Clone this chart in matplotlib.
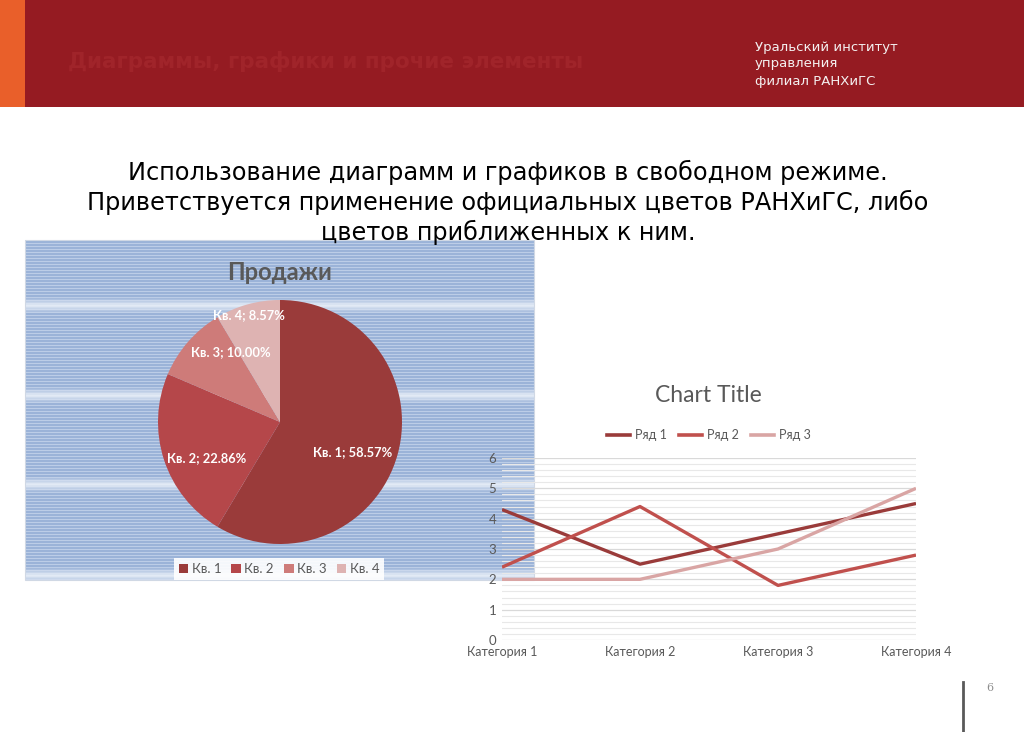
import numpy as np
import matplotlib
matplotlib.use("Agg")
import matplotlib.pyplot as plt
from matplotlib.patches import Rectangle, Patch
from matplotlib.lines import Line2D
from matplotlib.ticker import MultipleLocator

# ---- data ----
pie_labels = ["Кв. 1", "Кв. 2", "Кв. 3", "Кв. 4"]
pie_values = [8.2, 3.2, 1.4, 1.2]
pie_colors = ["#9A3B3A", "#B5474A", "#CE7B79", "#DEB3B2"]
pie_label_r = [0.64, 0.67, 0.70, 0.91]
pie_label_dang = [-7, 8, -14, 1]

categories = ["Категория 1", "Категория 2", "Категория 3", "Категория 4"]
series_names = ["Ряд 1", "Ряд 2", "Ряд 3"]
series_1 = [4.3, 2.5, 3.5, 4.5]
series_2 = [2.4, 4.4, 1.8, 2.8]
series_3 = [2.0, 2.0, 3.0, 5.0]
series_colors = ["#9A3B3A", "#C0504D", "#D9A5A4"]
y_ticks = [0, 1, 2, 3, 4, 5, 6]

W, H = 1024, 732
fig = plt.figure(figsize=(W / 100, H / 100), dpi=100)
fig.patch.set_facecolor("white")

# ---- background axes in pixel coordinates ----
bg = fig.add_axes([0, 0, 1, 1])
bg.set_xlim(0, W)
bg.set_ylim(H, 0)
bg.axis("off")

bg.add_patch(Rectangle((0, 0), 25, 107, color="#E95F2A", lw=0))
bg.add_patch(Rectangle((25, 0), W - 25, 107, color="#951B22", lw=0))
bg.text(68, 62, "Диаграммы, графики и прочие элементы", color="#A0242A",
        fontsize=15.5, fontweight="bold", family="DejaVu Sans", va="center", ha="left")
for i, line in enumerate(["Уральский институт", "управления", "филиал РАНХиГС"]):
    bg.text(755, 47 + i * 17, line, color="#F4F0F0", fontsize=9.5,
            family="DejaVu Sans", va="center", ha="left")

subtitle = ["Использование диаграмм и графиков в свободном режиме.",
            "Приветствуется применение официальных цветов РАНХиГС, либо",
            "цветов приближенных к ним."]
for i, line in enumerate(subtitle):
    bg.text(508, 172 + i * 30, line, color="black", fontsize=17.25,
            family="DejaVu Sans", va="center", ha="center")

# striped blue texture behind the pie chart
y0, y1, x0, x1 = 240, 580, 25, 534
rows = np.arange(y0, y1)
blue = np.array([0x9B, 0xB3, 0xD8]) / 255
light = np.array([0xBC, 0xCD, 0xE7]) / 255
white = np.array([0xE2, 0xEA, 0xF5]) / 255
tex = np.zeros((len(rows), 1, 3))
for k, yy in enumerate(rows):
    c = light if yy % 3 == 0 else blue
    f = 0.0
    for cy in (305, 395, 484, 575):
        f = max(f, max(0.0, 1 - abs(yy - cy) / 8.0))
    tex[k, 0] = c * (1 - f) + white * f
bg.imshow(tex, extent=[x0, x1, y1, y0], aspect="auto", interpolation="nearest", zorder=1)
bg.add_patch(Rectangle((x0, y0), x1 - x0, y1 - y0, fill=False, ec="#D0D8E4", lw=0.8, zorder=2))

bg.text(280, 272, "Продажи", color="#595959", fontsize=17, fontweight="bold",
        family="Lato", ha="center", va="center", zorder=3)

# page number & divider
bg.plot([963, 963], [682, 732], color="#595959", lw=2)
bg.text(990, 688, "6", color="#8C8C8C", fontsize=8, family="DejaVu Serif", ha="center", va="center")

# ---- pie ----
cx, cy, R = 280, 422, 122
pax = fig.add_axes([(cx - R) / W, (H - cy - R) / H, 2 * R / W, 2 * R / H])
wedges, _ = pax.pie(pie_values, colors=pie_colors, startangle=90, counterclock=False,
                    wedgeprops=dict(lw=0))
pax.set_xlim(-1, 1)
pax.set_ylim(-1, 1)
total = sum(pie_values)
for w, lab, v, r, da in zip(wedges, pie_labels, pie_values, pie_label_r, pie_label_dang):
    ang = np.deg2rad((w.theta1 + w.theta2) / 2 + da)
    pax.text(r * np.cos(ang), r * np.sin(ang), f"{lab}; {100 * v / total:.2f}%",
             color="white", fontsize=9.3, fontweight="bold", family="Lato",
             ha="center", va="center")

handles = [Patch(facecolor=c, edgecolor="none") for c in pie_colors]
leg = fig.legend(handles, pie_labels, loc="center", bbox_to_anchor=(279 / W, 1 - 569 / H),
                 ncol=4, frameon=True, fancybox=False, handlelength=0.75, handleheight=0.75,
                 handletextpad=0.25, columnspacing=0.75, borderpad=0.35,
                 prop=dict(family="Lato", size=9.5))
leg.get_frame().set_facecolor("white")
leg.get_frame().set_edgecolor("none")
leg.get_frame().set_alpha(0.9)
for t in leg.get_texts():
    t.set_color("#595959")

# ---- line chart ----
lx0, lx1, ly0, ly1 = 502, 916, 458, 640
lax = fig.add_axes([lx0 / W, (H - ly1) / H, (lx1 - lx0) / W, (ly1 - ly0) / H])
lax.patch.set_alpha(0)
xs = np.arange(len(categories))
for vals, name, col in zip([series_1, series_2, series_3], series_names, series_colors):
    lax.plot(xs, vals, color=col, lw=2.4, label=name, solid_capstyle="butt", zorder=3)
lax.set_xlim(0, len(categories) - 1)
lax.set_ylim(0, 6)
lax.set_yticks(y_ticks)
lax.yaxis.set_minor_locator(MultipleLocator(0.2))
lax.set_xticks(xs)
lax.set_xticklabels(categories)
lax.grid(True, which="major", axis="y", color="#D9D9D9", lw=0.9, zorder=0)
lax.grid(True, which="minor", axis="y", color="#E8E8E8", lw=0.8, zorder=0)
for s in lax.spines.values():
    s.set_visible(False)
lax.tick_params(axis="both", which="both", length=0, colors="#595959", labelsize=9)
lax.tick_params(axis="y", labelsize=9.5, pad=4)
lax.tick_params(axis="x", pad=4)
for t in lax.get_xticklabels() + lax.get_yticklabels():
    t.set_family("Lato")

bg.text(708, 396, "Chart Title", color="#595959", fontsize=16.5, family="Lato",
        ha="center", va="center")
lh = [Line2D([0], [0], color=c, lw=2.6) for c in series_colors]
leg2 = fig.legend(lh, series_names, loc="center", bbox_to_anchor=(709 / W, 1 - 435 / H),
                  ncol=3, frameon=False, handlelength=1.8, handletextpad=0.4,
                  columnspacing=1.0, prop=dict(family="Lato", size=9))
for t in leg2.get_texts():
    t.set_color("#595959")

fig.savefig("out.png", dpi=100)
